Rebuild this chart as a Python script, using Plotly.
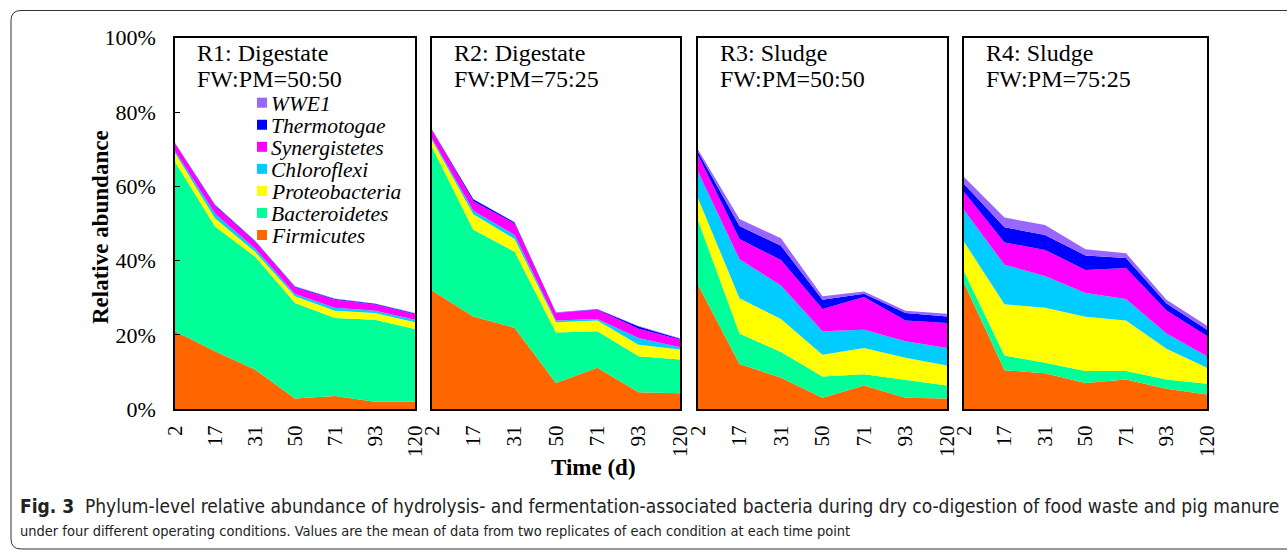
import plotly.graph_objects as go

# ---------------- data ----------------
days = ["2", "17", "31", "50", "71", "93", "120"]
phyla = ["Firmicutes", "Bacteroidetes", "Proteobacteria", "Chloroflexi",
         "Synergistetes", "Thermotogae", "WWE1"]
colors = ["#FF6600", "#00FF99", "#FFFF00", "#00CCFF", "#FF00FF", "#0000FF", "#9966FF"]
panel_titles = [("R1: Digestate", "FW:PM=50:50"), ("R2: Digestate", "FW:PM=75:25"),
                ("R3: Sludge", "FW:PM=50:50"), ("R4: Sludge", "FW:PM=75:25")]
y_ticks = [0, 20, 40, 60, 80, 100]
y_tick_labels = ["0%", "20%", "40%", "60%", "80%", "100%"]

# relative abundance (%) per phylum, order as in `phyla`
r1 = [
    [21.0, 15.6, 10.7, 2.9, 3.6, 2.0, 2.0],
    [45.6, 33.6, 30.4, 25.7, 21.0, 22.1, 19.6],
    [2.4, 2.2, 1.3, 1.8, 1.9, 1.8, 1.8],
    [0.5, 1.3, 0.9, 0.6, 0.8, 0.6, 0.7],
    [2.0, 2.0, 1.8, 1.8, 2.2, 1.7, 1.5],
    [0.1, 0.3, 0.2, 0.2, 0.2, 0.2, 0.2],
    [0.1, 0.1, 0.1, 0.1, 0.1, 0.1, 0.1],
]
r2 = [
    [32.0, 25.0, 21.9, 7.1, 11.2, 4.6, 4.3],
    [38.6, 23.3, 20.5, 13.6, 9.8, 9.7, 9.1],
    [1.8, 4.2, 3.4, 2.7, 2.9, 3.1, 2.7],
    [0.5, 0.9, 1.1, 0.5, 0.4, 1.8, 0.6],
    [2.2, 2.6, 3.1, 2.0, 2.5, 2.5, 2.1],
    [0.1, 0.5, 0.3, 0.1, 0.1, 0.6, 0.2],
    [0.1, 0.1, 0.1, 0.1, 0.1, 0.1, 0.1],
]
r3 = [
    [33.5, 12.2, 8.5, 3.1, 6.4, 3.1, 2.9],
    [17.4, 8.2, 6.9, 5.7, 3.0, 4.9, 3.5],
    [5.9, 9.5, 8.9, 5.9, 7.1, 5.9, 5.4],
    [7.1, 10.5, 9.0, 6.3, 4.9, 4.4, 4.7],
    [4.5, 5.4, 6.9, 6.0, 8.8, 5.6, 6.7],
    [0.9, 3.5, 3.8, 2.5, 0.9, 2.0, 1.8],
    [0.6, 1.9, 2.0, 0.9, 0.6, 0.6, 0.7],
]
r4 = [
    [34.0, 10.5, 9.7, 7.1, 8.0, 5.5, 4.0],
    [3.1, 4.0, 2.8, 3.2, 2.3, 2.5, 2.9],
    [8.0, 13.8, 14.8, 14.6, 13.6, 8.3, 4.3],
    [8.5, 10.6, 8.6, 6.4, 5.8, 4.1, 3.1],
    [4.9, 6.0, 7.0, 6.2, 8.3, 6.2, 5.4],
    [2.1, 4.1, 4.0, 3.9, 2.7, 1.9, 1.7],
    [1.9, 2.6, 2.7, 1.7, 1.3, 1.0, 1.1],
]
reactors = [r1, r2, r3, r4]

# ---------------- layout helpers ----------------
W, H = 1287, 550
SERIF = "Liberation Serif, Times New Roman, serif"
panel_px = [(175, 415), (432, 680), (698, 947), (964, 1207)]
y_top_px, y_bot_px = 37.7, 409.3


def px_x(x):
    return x / W


def px_y(y):
    return 1 - y / H


fig = go.Figure()

for i, data in enumerate(reactors):
    ax = "" if i == 0 else str(i + 1)
    for j, name in enumerate(phyla):
        fig.add_trace(go.Scatter(
            x=days, y=data[j], name=name, mode="lines",
            stackgroup="r%d" % (i + 1),
            line=dict(width=0, color=colors[j]),
            fillcolor=colors[j],
            xaxis="x" + ax, yaxis="y" + ax,
            showlegend=False, hoverinfo="x+y+name",
        ))

layout = dict(
    width=W, height=H,
    margin=dict(l=0, r=0, t=0, b=0),
    paper_bgcolor="white", plot_bgcolor="white",
    showlegend=False,
    font=dict(family=SERIF, color="black", size=20),
)

for i, (x0, x1) in enumerate(panel_px):
    ax = "" if i == 0 else str(i + 1)
    layout["xaxis" + ax] = dict(
        domain=[px_x(x0), px_x(x1)], anchor="y" + ax,
        type="category", range=[0, len(days) - 1],
        showline=True, mirror=True, linecolor="black", linewidth=1.5,
        showgrid=False, zeroline=False, ticks="",
        tickangle=-90, tickfont=dict(family=SERIF, size=21, color="black"),
        ticklabelstandoff=6, automargin=False, fixedrange=True,
    )
    layout["yaxis" + ax] = dict(
        domain=[px_y(y_bot_px), px_y(y_top_px)], anchor="x" + ax,
        range=[0, 100], showline=True, mirror=True, linecolor="black",
        linewidth=1.5, showgrid=False, zeroline=False,
        tickvals=y_ticks, ticktext=y_tick_labels,
        ticks="inside" if i == 0 else "", ticklen=5, tickwidth=1.2,
        tickcolor="black",
        showticklabels=(i == 0),
        tickfont=dict(family=SERIF, size=22, color="black"),
        ticklabelstandoff=13, automargin=False, fixedrange=True,
    )

annotations = []
shapes = []

# panel titles (two lines each)
for i, (x0, x1) in enumerate(panel_px):
    for k, line in enumerate(panel_titles[i]):
        annotations.append(dict(
            x=px_x(x0 + 20), y=px_y(53 + 26 * k), xref="paper", yref="paper",
            xanchor="left", yanchor="middle", align="left", showarrow=False,
            text=line, font=dict(family=SERIF, size=24, color="black"),
        ))

# legend (inside first panel), top entry = last phylum
leg_x = 257
leg_y0 = 102.7
leg_dy = 22.05
for k, j in enumerate(reversed(range(len(phyla)))):
    cy = leg_y0 + k * leg_dy
    shapes.append(dict(
        type="rect", xref="paper", yref="paper",
        x0=px_x(leg_x), x1=px_x(leg_x + 10),
        y0=px_y(cy + 5), y1=px_y(cy - 5),
        fillcolor=colors[j], line=dict(width=0),
    ))
    annotations.append(dict(
        x=px_x(leg_x + 12), y=px_y(cy + 1), xref="paper", yref="paper",
        xanchor="left", yanchor="middle", showarrow=False,
        text="<i>%s</i>" % phyla[j],
        font=dict(family=SERIF, size=21.5, color="black"),
    ))

# axis titles
annotations.append(dict(
    x=px_x(100), y=px_y(227), xref="paper", yref="paper",
    xanchor="center", yanchor="middle", showarrow=False, textangle=-90,
    text="<b>Relative abundance</b>", font=dict(family=SERIF, size=23, color="black"),
))
annotations.append(dict(
    x=px_x(593), y=px_y(467), xref="paper", yref="paper",
    xanchor="center", yanchor="middle", showarrow=False,
    text="<b>Time (d)</b>", font=dict(family=SERIF, size=23, color="black"),
))

# caption
CAP = "Liberation Sans Narrow, DejaVu Sans Condensed, Arial Narrow, sans-serif"
annotations.append(dict(
    x=px_x(18), y=px_y(506), xref="paper", yref="paper",
    xanchor="left", yanchor="middle", showarrow=False, align="left",
    text="<b>Fig. 3</b>  Phylum-level relative abundance of hydrolysis- and fermentation-associated "
         "bacteria during dry co-digestion of food waste and pig manure",
    font=dict(family=CAP, size=19, color="#222222"),
))
annotations.append(dict(
    x=px_x(18), y=px_y(531), xref="paper", yref="paper",
    xanchor="left", yanchor="middle", showarrow=False, align="left",
    text="under four different operating conditions. Values are the mean of data from two "
         "replicates of each condition at each time point",
    font=dict(family=CAP, size=14.5, color="#222222"),
))

# outer rounded frame (open on the right)
def P(x, y):
    return "%.5f,%.5f" % (px_x(x), px_y(y))

frame_path = ("M " + P(1287, 10.5) + " L " + P(21, 10.5) + " Q " + P(11, 10.5) + " " + P(11, 20.5) +
              " L " + P(11, 539) + " Q " + P(11, 549) + " " + P(21, 549) + " L " + P(1287, 549))
shapes.append(dict(type="path", xref="paper", yref="paper", path=frame_path,
                   line=dict(color="#333333", width=1)))

layout["annotations"] = annotations
layout["shapes"] = shapes
fig.update_layout(**layout)

fig.write_html("out.html", config={"displayModeBar": False},
               post_script="document.body.style.margin='0';")
